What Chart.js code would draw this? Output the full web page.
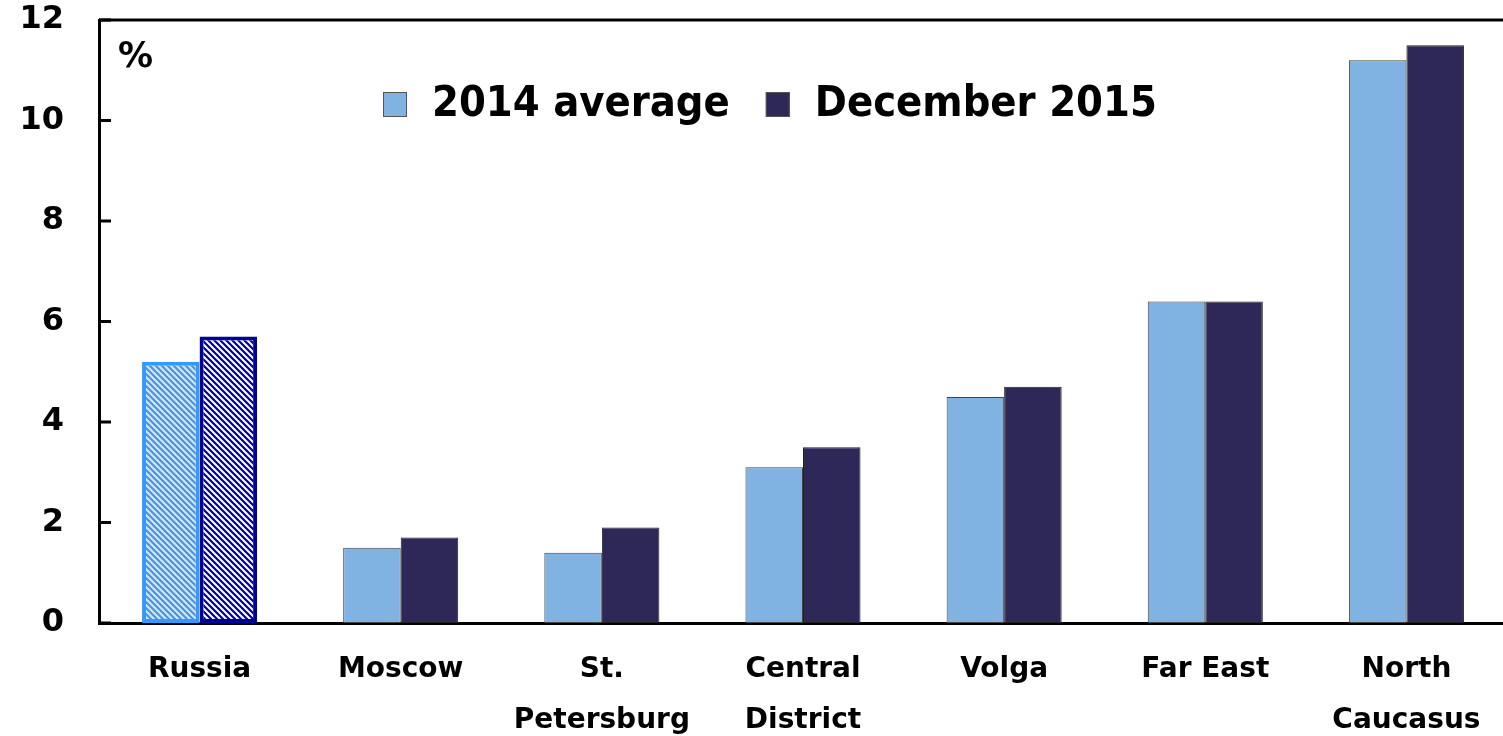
<!DOCTYPE html>
<html>
<head>
<meta charset="utf-8">
<script src="https://cdn.jsdelivr.net/npm/chart.js@4/dist/chart.umd.min.js"></script>
<style>
  html, body { margin: 0; padding: 0; background: #fff; overflow: hidden; }
</style>
</head>
<body>
<canvas id="myChart" width="1507" height="736"></canvas>
<script>
const categories = [['Russia'], ['Moscow'], ['St.', 'Petersburg'], ['Central', 'District'], ['Volga'], ['Far East'], ['North', 'Caucasus']];
const avg2014 = [5.2, 1.5, 1.4, 3.1, 4.5, 6.4, 11.2];
const dec2015 = [5.7, 1.7, 1.9, 3.5, 4.7, 6.4, 11.5];
const seriesLabels = ['2014 average', 'December 2015'];
const seriesColors = ['#80B2E2', '#2E2859'];
const yMin = 0, yMax = 12, yStep = 2;
const unitLabel = '%';

const FONT = '"DejaVu Sans", Verdana, sans-serif';
const LEGEND_FONT = '"DejaVu Sans Condensed", "DejaVu Sans", sans-serif';

// diagonal hatch used for the Russia bars
const hatch = function(bg, fg) {
    const c = document.createElement('canvas');
    c.width = 6; c.height = 6;
    const g = c.getContext('2d');
    g.fillStyle = bg;
    g.fillRect(0, 0, 6, 6);
    g.strokeStyle = fg;
    g.lineWidth = 2.2;
    g.beginPath();
    for (let x = -6; x <= 6; x += 6) {
        g.moveTo(x - 1, -1);
        g.lineTo(x + 7, 7);
    }
    g.stroke();
    return g.createPattern(c, 'repeat');
};

const perBar = function(first, rest) {
    return categories.map((c, i) => i === 0 ? first : rest);
};

const ctx = document.getElementById('myChart');

const frame = {
    id: 'frame',
    afterDraw(chart) {
        const g = chart.ctx;
        const a = chart.chartArea;
        const y = chart.scales.y;
        g.save();
        g.strokeStyle = '#000';
        g.lineWidth = 3;
        // top border
        g.beginPath();
        g.moveTo(a.left, a.top);
        g.lineTo(a.right, a.top);
        g.stroke();
        // inner ticks
        y.ticks.forEach(t => {
            const py = y.getPixelForValue(t.value);
            g.beginPath();
            g.moveTo(a.left, py);
            g.lineTo(a.left + 12, py);
            g.stroke();
        });
        // unit
        g.fillStyle = '#000';
        g.font = 'bold 35px ' + FONT;
        g.textBaseline = 'middle';
        g.fillText(unitLabel, a.left + 19, a.top + 38);
        // legend
        g.font = 'bold 43px ' + LEGEND_FONT;
        let x = 383;
        const ly = 92;
        chart.data.datasets.forEach((ds, i) => {
            g.fillStyle = seriesColors[i];
            g.fillRect(x, ly, 24, 25);
            g.lineWidth = 1;
            g.strokeStyle = '#555';
            g.strokeRect(x + 0.5, ly + 0.5, 23, 24);
            g.fillStyle = '#000';
            g.fillText(ds.label, x + 49, ly + 13);
            x += 49 + g.measureText(ds.label).width + 36;
        });
        g.restore();
    }
};

new Chart(ctx, {
    type: 'bar',
    data: {
        labels: categories,
        datasets: [{
            label: seriesLabels[0],
            data: avg2014,
            backgroundColor: perBar(hatch('#D6E6F6', '#4A94DA'), seriesColors[0]),
            borderColor: perBar('#3399FF', '#444'),
            borderWidth: perBar(4, 1),
            borderSkipped: false,
            categoryPercentage: 0.572,
            barPercentage: 1.0,
        }, {
            label: seriesLabels[1],
            data: dec2015,
            backgroundColor: perBar(hatch('#FFFFFF', '#000099'), seriesColors[1]),
            borderColor: perBar('#000099', '#222'),
            borderWidth: perBar(4, 1),
            borderSkipped: false,
            categoryPercentage: 0.572,
            barPercentage: 1.0,
        }],
    },
    options: {
        responsive: false,
        animation: false,
        layout: { padding: { top: 20, right: 0, left: 0, bottom: 0 } },
        plugins: {
            legend: { display: false },
            tooltip: { enabled: false },
        },
        scales: {
            x: {
                grid: { display: false, drawTicks: false },
                border: { display: true, color: '#000', width: 3 },
                ticks: {
                    color: '#000',
                    font: { family: FONT, size: 28, weight: 'bold', lineHeight: 1.8 },
                    padding: 22,
                    maxRotation: 0,
                    autoSkip: false,
                },
                afterFit: function(s) {
                    s.height = 113;
                    s.paddingLeft = 0;
                    s.paddingRight = 0;
                },
            },
            y: {
                min: yMin,
                max: yMax,
                grid: { display: false, drawTicks: false },
                border: { display: true, color: '#000', width: 3 },
                ticks: {
                    stepSize: yStep,
                    color: '#000',
                    font: { family: FONT, size: 32, weight: 'bold' },
                    padding: 35,
                },
                afterFit: function(s) {
                    s.width = 99;
                    s.paddingTop = 0;
                    s.paddingBottom = 0;
                },
            },
        },
    },
    plugins: [frame],
});
</script>
</body>
</html>
